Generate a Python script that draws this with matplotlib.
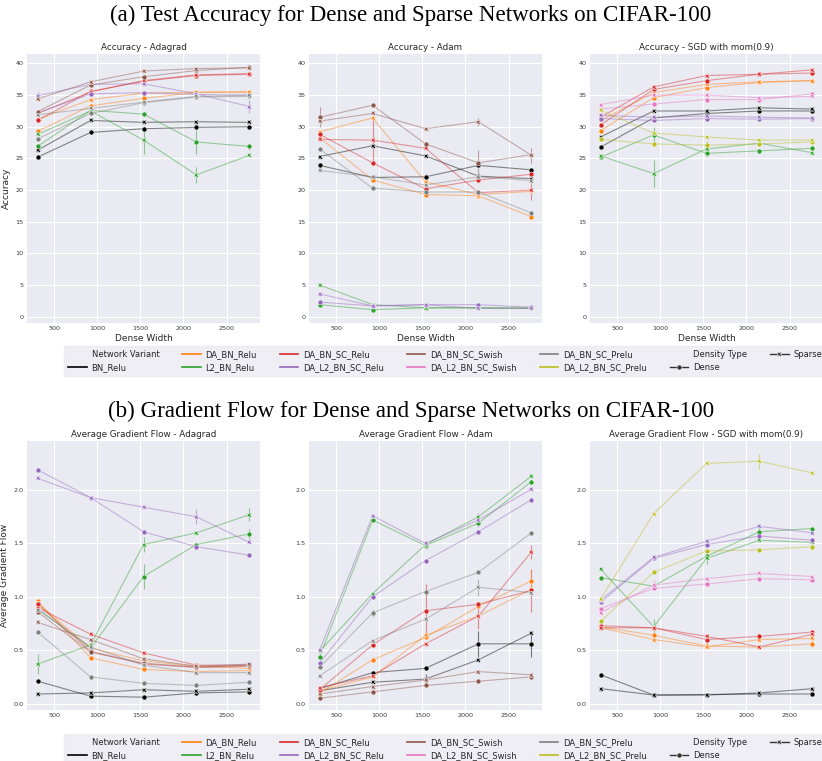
import matplotlib
matplotlib.use("Agg")
import matplotlib.pyplot as plt
from matplotlib.lines import Line2D

# ---------------------------------------------------------------- data
widths = [307, 922, 1536, 2150, 2765]

variants = ["BN_Relu", "DA_BN_Relu", "L2_BN_Relu", "DA_BN_SC_Relu",
            "DA_L2_BN_SC_Relu", "DA_BN_SC_Swish", "DA_L2_BN_SC_Swish",
            "DA_BN_SC_Prelu", "DA_L2_BN_SC_Prelu"]
variant_colors = ["#000000", "#ff7f0e", "#2ca02c", "#d62728", "#9467bd",
                  "#8c564b", "#e377c2", "#7f7f7f", "#bcbd22"]
densities = ["Dense", "Sparse"]

acc_adagrad = {
    ("BN_Relu", "Dense"): [25.2, 29.1, 29.7, 29.9, 30.0],
    ("BN_Relu", "Sparse"): [26.3, 31.0, 30.7, 30.8, 30.7],
    ("DA_BN_Relu", "Dense"): [29.3, 33.3, 34.5, 35.4, 35.5],
    ("DA_BN_Relu", "Sparse"): [31.2, 34.3, 35.3, 35.5, 35.5],
    ("L2_BN_Relu", "Dense"): [26.9, 32.6, 32.0, 27.6, 26.9],
    ("L2_BN_Relu", "Sparse"): [28.8, 32.5, 27.9, 22.4, 25.5],
    ("DA_BN_SC_Relu", "Dense"): [31.0, 35.6, 37.2, 38.1, 38.3],
    ("DA_BN_SC_Relu", "Sparse"): [32.1, 35.5, 37.3, 38.2, 38.4],
    ("DA_L2_BN_SC_Relu", "Dense"): [32.2, 35.2, 35.4, 35.1, 35.0],
    ("DA_L2_BN_SC_Relu", "Sparse"): [34.9, 36.7, 36.8, 35.2, 33.2],
    ("DA_BN_SC_Swish", "Dense"): [32.4, 36.6, 37.9, 38.9, 39.4],
    ("DA_BN_SC_Swish", "Sparse"): [34.4, 37.1, 38.8, 39.2, 39.3],
    ("DA_BN_SC_Prelu", "Dense"): [28.1, 32.1, 33.8, 34.7, 34.8],
    ("DA_BN_SC_Prelu", "Sparse"): [31.9, 32.9, 33.9, 34.8, 35.0],
}
acc_adam = {
    ("BN_Relu", "Dense"): [23.9, 22.0, 22.1, 23.9, 23.2],
    ("BN_Relu", "Sparse"): [25.3, 27.0, 25.4, 22.2, 21.8],
    ("DA_BN_Relu", "Dense"): [28.3, 21.6, 19.3, 19.1, 15.8],
    ("DA_BN_Relu", "Sparse"): [29.2, 31.4, 21.3, 19.3, 19.8],
    ("L2_BN_Relu", "Dense"): [1.9, 1.1, 1.4, 1.4, 1.3],
    ("L2_BN_Relu", "Sparse"): [5.0, 1.9, 1.4, 1.4, 1.4],
    ("DA_BN_SC_Relu", "Dense"): [28.8, 24.3, 20.2, 21.6, 22.5],
    ("DA_BN_SC_Relu", "Sparse"): [28.0, 27.9, 26.6, 19.6, 20.0],
    ("DA_L2_BN_SC_Relu", "Dense"): [2.3, 1.7, 1.9, 1.9, 1.5],
    ("DA_L2_BN_SC_Relu", "Sparse"): [3.6, 1.7, 1.9, 1.3, 1.3],
    ("DA_BN_SC_Swish", "Dense"): [31.5, 33.4, 27.3, 24.3, 25.6],
    ("DA_BN_SC_Swish", "Sparse"): [30.9, 32.1, 29.7, 30.8, 25.5],
    ("DA_BN_SC_Prelu", "Dense"): [26.5, 20.3, 19.7, 19.7, 16.4],
    ("DA_BN_SC_Prelu", "Sparse"): [23.1, 22.1, 20.8, 22.1, 21.5],
}
acc_sgd = {
    ("BN_Relu", "Dense"): [26.8, 31.4, 32.1, 32.5, 32.5],
    ("BN_Relu", "Sparse"): [28.4, 32.5, 32.5, 33.0, 32.8],
    ("DA_BN_Relu", "Dense"): [29.4, 34.6, 36.2, 37.0, 37.3],
    ("DA_BN_Relu", "Sparse"): [31.0, 35.4, 36.7, 37.1, 37.3],
    ("L2_BN_Relu", "Dense"): [25.2, 28.7, 25.8, 26.2, 26.6],
    ("L2_BN_Relu", "Sparse"): [25.4, 22.6, 26.5, 27.4, 25.9],
    ("DA_BN_SC_Relu", "Dense"): [30.3, 35.9, 37.3, 38.3, 38.5],
    ("DA_BN_SC_Relu", "Sparse"): [31.5, 36.3, 38.1, 38.3, 39.0],
    ("DA_L2_BN_SC_Relu", "Dense"): [31.3, 31.0, 31.3, 31.2, 31.3],
    ("DA_L2_BN_SC_Relu", "Sparse"): [31.8, 31.5, 31.7, 31.5, 31.4],
    ("DA_L2_BN_SC_Swish", "Dense"): [32.8, 33.6, 34.3, 34.3, 35.2],
    ("DA_L2_BN_SC_Swish", "Sparse"): [33.5, 35.0, 35.0, 34.6, 34.8],
    ("DA_L2_BN_SC_Prelu", "Dense"): [28.0, 27.3, 27.1, 27.3, 27.6],
    ("DA_L2_BN_SC_Prelu", "Sparse"): [32.6, 29.0, 28.4, 27.9, 27.9],
}

gf_adagrad = {
    ("BN_Relu", "Dense"): [0.21, 0.07, 0.06, 0.10, 0.11],
    ("BN_Relu", "Sparse"): [0.09, 0.10, 0.13, 0.115, 0.135],
    ("DA_BN_Relu", "Dense"): [0.96, 0.43, 0.32, 0.30, 0.31],
    ("DA_BN_Relu", "Sparse"): [0.94, 0.52, 0.40, 0.35, 0.33],
    ("L2_BN_Relu", "Dense"): [0.89, 0.52, 1.19, 1.49, 1.59],
    ("L2_BN_Relu", "Sparse"): [0.37, 0.55, 1.49, 1.60, 1.77],
    ("DA_BN_SC_Relu", "Dense"): [0.93, 0.49, 0.37, 0.34, 0.35],
    ("DA_BN_SC_Relu", "Sparse"): [0.90, 0.65, 0.475, 0.36, 0.36],
    ("DA_L2_BN_SC_Relu", "Dense"): [2.19, 1.93, 1.61, 1.47, 1.39],
    ("DA_L2_BN_SC_Relu", "Sparse"): [2.11, 1.93, 1.84, 1.75, 1.51],
    ("DA_BN_SC_Swish", "Dense"): [0.86, 0.48, 0.38, 0.34, 0.36],
    ("DA_BN_SC_Swish", "Sparse"): [0.76, 0.60, 0.42, 0.35, 0.37],
    ("DA_BN_SC_Prelu", "Dense"): [0.67, 0.25, 0.19, 0.17, 0.20],
    ("DA_BN_SC_Prelu", "Sparse"): [0.88, 0.53, 0.36, 0.29, 0.29],
}
gf_adam = {
    ("BN_Relu", "Dense"): [0.14, 0.29, 0.33, 0.56, 0.56],
    ("BN_Relu", "Sparse"): [0.12, 0.20, 0.23, 0.41, 0.66],
    ("DA_BN_Relu", "Dense"): [0.10, 0.41, 0.62, 0.91, 1.15],
    ("DA_BN_Relu", "Sparse"): [0.12, 0.25, 0.64, 0.82, 1.07],
    ("L2_BN_Relu", "Dense"): [0.44, 1.72, 1.48, 1.69, 2.08],
    ("L2_BN_Relu", "Sparse"): [0.49, 1.03, 1.49, 1.75, 2.13],
    ("DA_BN_SC_Relu", "Dense"): [0.13, 0.55, 0.87, 0.93, 1.06],
    ("DA_BN_SC_Relu", "Sparse"): [0.15, 0.26, 0.56, 0.82, 1.42],
    ("DA_L2_BN_SC_Relu", "Dense"): [0.38, 1.00, 1.34, 1.61, 1.91],
    ("DA_L2_BN_SC_Relu", "Sparse"): [0.50, 1.76, 1.50, 1.72, 2.01],
    ("DA_BN_SC_Swish", "Dense"): [0.05, 0.11, 0.17, 0.21, 0.25],
    ("DA_BN_SC_Swish", "Sparse"): [0.09, 0.16, 0.22, 0.30, 0.27],
    ("DA_BN_SC_Prelu", "Dense"): [0.34, 0.85, 1.05, 1.23, 1.60],
    ("DA_BN_SC_Prelu", "Sparse"): [0.26, 0.59, 0.79, 1.09, 1.04],
}
gf_sgd = {
    ("BN_Relu", "Dense"): [0.27, 0.08, 0.085, 0.09, 0.09],
    ("BN_Relu", "Sparse"): [0.14, 0.08, 0.08, 0.10, 0.14],
    ("DA_BN_Relu", "Dense"): [0.72, 0.64, 0.54, 0.53, 0.56],
    ("DA_BN_Relu", "Sparse"): [0.71, 0.60, 0.53, 0.60, 0.61],
    ("L2_BN_Relu", "Dense"): [1.18, 1.10, 1.38, 1.61, 1.64],
    ("L2_BN_Relu", "Sparse"): [1.26, 0.72, 1.36, 1.53, 1.51],
    ("DA_BN_SC_Relu", "Dense"): [0.73, 0.71, 0.60, 0.63, 0.67],
    ("DA_BN_SC_Relu", "Sparse"): [0.71, 0.71, 0.63, 0.53, 0.65],
    ("DA_L2_BN_SC_Relu", "Dense"): [0.95, 1.36, 1.49, 1.57, 1.53],
    ("DA_L2_BN_SC_Relu", "Sparse"): [0.97, 1.37, 1.52, 1.66, 1.60],
    ("DA_L2_BN_SC_Swish", "Dense"): [0.89, 1.08, 1.12, 1.17, 1.16],
    ("DA_L2_BN_SC_Swish", "Sparse"): [0.85, 1.11, 1.17, 1.22, 1.19],
    ("DA_L2_BN_SC_Prelu", "Dense"): [0.77, 1.23, 1.43, 1.44, 1.47],
    ("DA_L2_BN_SC_Prelu", "Sparse"): [0.98, 1.78, 2.25, 2.27, 2.16],
}

# confidence-interval half widths: (variant, density, point index, half width)
err_acc_adagrad = [("L2_BN_Relu", "Sparse", 2, 2.2), ("L2_BN_Relu", "Sparse", 3, 1.3),
                   ("L2_BN_Relu", "Dense", 3, 1.9), ("L2_BN_Relu", "Dense", 4, 0.5),
                   ("DA_L2_BN_SC_Relu", "Sparse", 0, 0.6), ("DA_L2_BN_SC_Relu", "Sparse", 4, 1.0)]
err_acc_adam = [("DA_BN_SC_Swish", "Dense", 0, 1.6), ("DA_BN_SC_Relu", "Sparse", 1, 3.6),
                ("DA_BN_SC_Swish", "Dense", 3, 2.0), ("DA_BN_SC_Swish", "Sparse", 3, 0.6),
                ("DA_BN_SC_Swish", "Sparse", 4, 1.2), ("DA_BN_SC_Relu", "Sparse", 4, 1.6),
                ("DA_BN_SC_Relu", "Dense", 2, 0.5), ("BN_Relu", "Dense", 2, 0.5)]
err_acc_sgd = [("L2_BN_Relu", "Sparse", 1, 2.1), ("L2_BN_Relu", "Dense", 1, 1.2),
               ("L2_BN_Relu", "Sparse", 2, 1.2), ("BN_Relu", "Sparse", 3, 0.3)]
err_gf_adagrad = [("L2_BN_Relu", "Dense", 2, 0.12), ("L2_BN_Relu", "Sparse", 2, 0.07),
                  ("DA_L2_BN_SC_Relu", "Sparse", 3, 0.07), ("L2_BN_Relu", "Sparse", 4, 0.06),
                  ("L2_BN_Relu", "Sparse", 0, 0.09), ("L2_BN_Relu", "Dense", 4, 0.05)]
err_gf_adam = [("BN_Relu", "Dense", 4, 0.12), ("BN_Relu", "Dense", 3, 0.12),
               ("DA_BN_SC_Relu", "Sparse", 4, 0.07), ("DA_BN_SC_Relu", "Dense", 4, 0.2),
               ("DA_BN_Relu", "Dense", 4, 0.1), ("DA_BN_SC_Prelu", "Sparse", 3, 0.08),
               ("DA_BN_SC_Relu", "Dense", 2, 0.25), ("DA_BN_SC_Relu", "Sparse", 3, 0.12),
               ("BN_Relu", "Sparse", 2, 0.05), ("DA_BN_SC_Prelu", "Dense", 1, 0.04),
               ("DA_L2_BN_SC_Relu", "Sparse", 3, 0.07)]
err_gf_sgd = [("DA_L2_BN_SC_Prelu", "Sparse", 3, 0.07), ("L2_BN_Relu", "Sparse", 1, 0.07),
              ("L2_BN_Relu", "Sparse", 2, 0.05), ("L2_BN_Relu", "Dense", 3, 0.06),
              ("DA_L2_BN_SC_Swish", "Sparse", 1, 0.05), ("DA_BN_Relu", "Sparse", 4, 0.08),
              ("DA_BN_SC_Relu", "Dense", 2, 0.05), ("DA_L2_BN_SC_Prelu", "Dense", 4, 0.03),
              ("BN_Relu", "Sparse", 0, 0.02)]

acc_ticks = [0, 5, 10, 15, 20, 25, 30, 35, 40]
gf_ticks = [0.0, 0.5, 1.0, 1.5, 2.0]
width_ticks = [500, 1000, 1500, 2000, 2500]

# ---------------------------------------------------------------- style
BG = "#EAEAF2"
plt.rcParams.update({
    "font.family": ["DejaVu Sans"],
    "axes.facecolor": BG,
    "axes.edgecolor": "white",
    "axes.grid": True,
    "grid.color": "white",
    "grid.linewidth": 0.8,
    "xtick.major.size": 0,
    "ytick.major.size": 0,
    "xtick.color": "#3a3a3a",
    "ytick.color": "#3a3a3a",
})

W, H = 822, 761
fig = plt.figure(figsize=(W / 100, H / 100), dpi=100)


def px_axes(left, top, width, height):
    return fig.add_axes([left / W, 1 - (top + height) / H, width / W, height / H])


markers = {"Dense": "o", "Sparse": "X"}


def draw_panel(ax, data, errs, title, ticks, ylim, fmt, ylabel=None, xlabel=None):
    color_of = dict(zip(variants, variant_colors))
    for v in variants:
        for d in densities:
            if (v, d) not in data:
                continue
            vals = data[(v, d)]
            c = color_of[v]
            ax.plot(widths, vals, color=c, lw=0.8, alpha=0.45, zorder=2)
            ax.plot(widths, vals, ls="none", marker=markers[d], ms=3.6,
                    color=c, mec="white", mew=0.35, zorder=3)
    for v, d, i, e in errs:
        val = data[(v, d)][i]
        ax.vlines(widths[i], val - e, val + e, color=color_of[v], lw=0.8,
                  alpha=0.5, zorder=2)
    ax.set_xlim(184, 2888)
    ax.set_ylim(*ylim)
    ax.set_xticks(width_ticks)
    ax.set_yticks(ticks)
    ax.set_yticklabels([fmt.format(t) for t in ticks])
    ax.tick_params(labelsize=4.6, pad=2.5)
    for s in ax.spines.values():
        s.set_visible(False)
    ax.set_title(title, fontsize=6.3, color="#262626", pad=3)
    if ylabel:
        ax.set_ylabel(ylabel, fontsize=6.5, color="#262626", labelpad=3)
    if xlabel:
        ax.set_xlabel(xlabel, fontsize=6.5, color="#262626", labelpad=1.5)


lefts = [27, 309, 590]
aw, ah = 233, 269

top_panels = [(acc_adagrad, err_acc_adagrad, "Accuracy - Adagrad"),
              (acc_adam, err_acc_adam, "Accuracy - Adam"),
              (acc_sgd, err_acc_sgd, "Accuracy - SGD with mom(0.9)")]
for k, (data, errs, title) in enumerate(top_panels):
    ax = px_axes(lefts[k], 54, aw, ah)
    draw_panel(ax, data, errs, title, acc_ticks, (-1.0, 41.5), "{:d}",
               ylabel="Accuracy" if k == 0 else None, xlabel="Dense Width")

bottom_panels = [(gf_adagrad, err_gf_adagrad, "Average Gradient Flow - Adagrad"),
                 (gf_adam, err_gf_adam, "Average Gradient Flow - Adam"),
                 (gf_sgd, err_gf_sgd, "Average Gradient Flow - SGD with mom(0.9)")]
for k, (data, errs, title) in enumerate(bottom_panels):
    ax = px_axes(lefts[k], 441, aw, ah)
    draw_panel(ax, data, errs, title, gf_ticks, (-0.06, 2.46), "{:.1f}",
               ylabel="Average Gradient Flow" if k == 0 else None)

# figure titles
fig.text(0.5, 1 - 15 / H, "(a) Test Accuracy for Dense and Sparse Networks on CIFAR-100",
         ha="center", va="center", family="Liberation Serif", fontsize=16.6)
fig.text(0.5, 1 - 411 / H, "(b) Gradient Flow for Dense and Sparse Networks on CIFAR-100",
         ha="center", va="center", family="Liberation Serif", fontsize=16.6)

# legends
def legend_entries():
    handles, labels = [], []
    handles.append(Line2D([], [], color="none"))
    labels.append("Network Variant")
    for v, c in zip(variants, variant_colors):
        handles.append(Line2D([], [], color=c, lw=1.2))
        labels.append(v)
    handles.append(Line2D([], [], color="none"))
    labels.append("Density Type")
    for d in densities:
        handles.append(Line2D([], [], color="#333333", lw=1.0, marker=markers[d],
                              ms=3.6, mec="white", mew=0.35))
        labels.append(d)
    return handles, labels


for top in (346, 734):
    h, l = legend_entries()
    leg = fig.legend(h, l, loc="upper left", bbox_to_anchor=(64 / W, 1 - top / H),
                     ncol=7, fontsize=6, frameon=True, fancybox=False,
                     handlelength=2.2, handletextpad=0.6, columnspacing=2.75,
                     labelspacing=0.45, borderpad=0.5, borderaxespad=0)
    leg.get_frame().set_facecolor(BG)
    leg.get_frame().set_edgecolor(BG)
    for t in leg.get_texts():
        t.set_color("#262626")

fig.savefig("out.png", dpi=100, facecolor="white")
